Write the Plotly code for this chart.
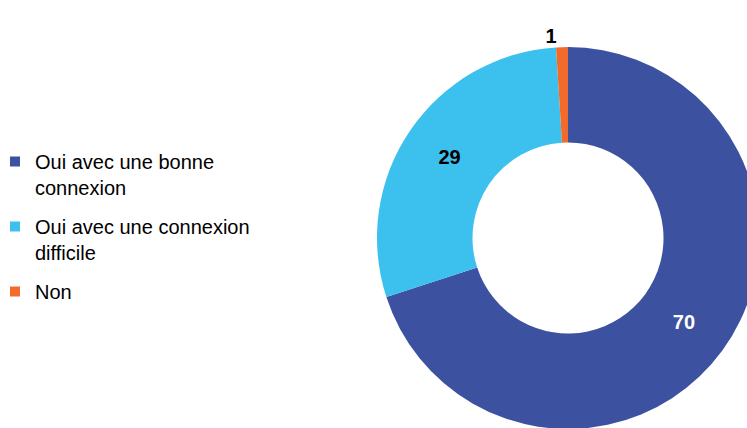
import plotly.graph_objects as go

labels = ["Oui avec une bonne<br>connexion", "Oui avec une connexion<br>difficile", "Non"]
values = [70, 29, 1]
colors = ["#3C52A1", "#3CC0EE", "#F26B2A"]
text_colors = ["#FFFFFF", "#000000", "#000000"]
text_positions = ["inside", "inside", "outside"]

FONT = "Liberation Sans, Arial, sans-serif"
W, H = 770, 440
cx, cy, R = 568, 238, 191

fig = go.Figure()

fig.add_trace(go.Pie(
    labels=labels,
    values=values,
    hole=0.5,
    sort=False,
    direction="clockwise",
    rotation=0,
    marker=dict(colors=colors, line=dict(width=0)),
    textinfo="value",
    textposition=text_positions,
    insidetextorientation="horizontal",
    texttemplate="<b>%{value}</b>",
    textfont=dict(family=FONT, size=20, color=text_colors),
    insidetextfont=dict(family=FONT, size=20, color=text_colors),
    outsidetextfont=dict(family=FONT, size=20, color="#000000"),
    domain=dict(x=[(cx - R) / W, (cx + R) / W], y=[(H - cy - R) / H, (H - cy + R) / H]),
    showlegend=False,
    hoverinfo="skip",
))

# legend entries (square swatches) for each category
for lab, col in zip(labels, colors):
    fig.add_trace(go.Scatter(
        x=[None], y=[None], mode="markers", name=lab,
        legendgroup=lab, showlegend=True,
        marker=dict(symbol="square", size=10, color=col),
        hoverinfo="skip",
    ))

fig.update_layout(
    width=W,
    height=H,
    margin=dict(l=0, r=0, t=0, b=0),
    paper_bgcolor="#FFFFFF",
    plot_bgcolor="rgba(0,0,0,0)",
    font=dict(family=FONT, size=20, color="#000000"),
    xaxis=dict(visible=False),
    yaxis=dict(visible=False),
    legend=dict(
        x=0, y=1 - 142 / H, xanchor="left", yanchor="top",
        font=dict(family=FONT, size=20, color="#000000"),
        valign="top",
        itemwidth=30,
        indentation=-5,
        traceorder="grouped",
        tracegroupgap=10,
        bgcolor="rgba(0,0,0,0)",
    ),
)

fig.write_html(
    "out.html",
    config={"displayModeBar": False},
    post_script="document.body.style.margin='0';document.body.style.overflow='hidden';",
)
